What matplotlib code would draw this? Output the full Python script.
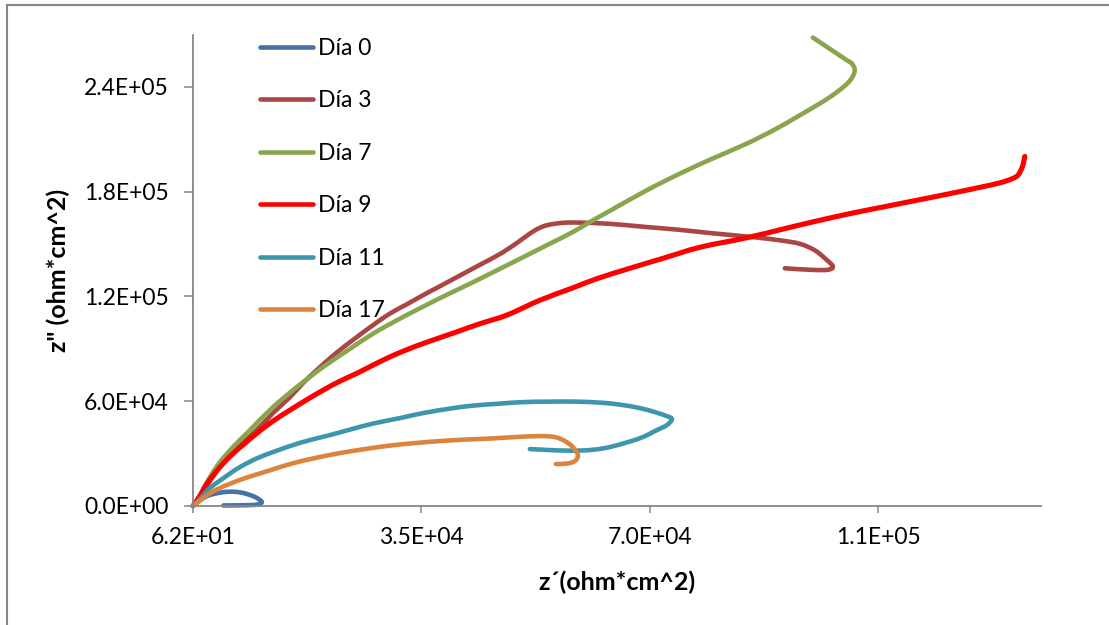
import matplotlib
matplotlib.use("Agg")
import matplotlib.pyplot as plt
import numpy as np
from matplotlib.lines import Line2D
from matplotlib.path import Path
from matplotlib.patches import PathPatch

plt.rcParams['font.family'] = ['Lato', 'DejaVu Sans']

# ---- data (z' , z'') in ohm*cm^2 ----
dia0_x = [62, 1400, 2670, 4200, 5730, 7300, 8800, 9900, 10590, 10300, 9300, 7000, 4700]
dia0_y = [0, 4000, 6300, 7600, 8200, 7800, 6300, 4500, 2500, 1200, 600, 400, 300]

dia3_x = [62, 1135, 2667, 4659, 7264, 9823, 12321, 14926, 16918, 19018, 21975, 25147, 27645,
          30250, 32855, 35307, 37912, 40471, 44042, 47566, 50631, 52470, 54264, 56761, 59366,
          63963, 69586, 74669, 79747, 85417, 90014, 93079, 95378, 96910, 98136, 97370, 94612, 90780]
dia3_y = [0, 5720, 14299, 25167, 34890, 43470, 53193, 62345, 70352, 77788, 87511, 96663, 103527,
          110219, 115538, 120686, 125833, 130981, 138131, 145280, 153116, 157864, 160724, 162153, 162268,
          161579, 159747, 158144, 156148, 154145, 152144, 150142, 146424, 141849, 137273, 135271, 135271, 136129]

dia7_x = [62, 1135, 2667, 4199, 6192, 8797, 12321, 16152, 19983, 23814, 27645, 31476, 35307,
          39138, 42969, 46800, 50631, 54264, 58293, 60898, 63963, 69586, 74669, 79747, 84910,
          89274, 92572, 95378, 97676, 99668, 100894, 101507, 101047, 100235, 97676, 95071]
dia7_y = [0, 6292, 16587, 25167, 33746, 43470, 56625, 68636, 79504, 89227, 98665, 106674, 114108,
          121258, 128121, 135271, 142420, 149284, 156890, 162610, 169017, 180739, 190297, 199046, 207455,
          215632, 222663, 228788, 234107, 239656, 244231, 249379, 253382, 255378, 261784, 268256]

dia9_x = [62, 1135, 2161, 4199, 6238, 9823, 12321, 14926, 17531, 20029, 22588, 25147, 27645,
          30250, 32855, 35353, 37912, 40471, 44042, 48133, 53236, 58339, 61925, 67030, 72130,
          77755, 84910, 90014, 95117, 100741, 105338, 111467, 116065, 120662, 123727, 125566,
          126485, 127098, 127405, 127558]
dia9_y = [0, 5720, 12583, 22307, 30143, 41582, 48617, 54909, 60915, 66349, 71496, 75902, 80648,
          85395, 89513, 93060, 96376, 99694, 104385, 109246, 117826, 124975, 130123, 136129, 141849,
          148140, 153573, 158150, 162728, 167417, 170847, 175423, 178854, 182460, 185035, 187323,
          189322, 193326, 197330, 200190]

dia11_x = [62, 1135, 2667, 4966, 7264, 10329, 14926, 17991, 21056, 24121, 27645, 31783, 35307,
           39445, 42969, 47107, 50631, 54769, 58600, 62431, 65496, 68561, 70859, 72698, 73464,
           72698, 70859, 69020, 66721, 63963, 61664, 59366, 57067, 54769, 51704]
dia11_y = [0, 4004, 10295, 16587, 22307, 28027, 34318, 37750, 40610, 43756, 47187, 50333, 53193,
           55767, 57483, 58627, 59485, 59771, 59771, 59199, 58055, 56053, 53765, 51477, 49761,
           46328, 42898, 39466, 36606, 33746, 32316, 31744, 31744, 32030, 32602]

dia17_x = [62, 1135, 2361, 3694, 6192, 8797, 11861, 14926, 18757, 22588, 26419, 30250, 34081, 37912,
           41743, 45574, 49405, 53236, 55535, 57067, 58293, 59059, 58599, 57373, 55688]
dia17_y = [0, 3146, 6578, 9438, 13442, 16873, 20419, 24023, 27455, 30314, 32602, 34604, 36034, 37178,
           38036, 38608, 39466, 40038, 39466, 37178, 33746, 29170, 25738, 24308, 24023]

labels = ['Día 0', 'Día 3', 'Día 7', 'Día 9', 'Día 11', 'Día 17']
colors = ['#4572A7', '#AA4643', '#89A54E', '#FF0000', '#3D96AE', '#DB843D']
xs = [dia0_x, dia3_x, dia7_x, dia9_x, dia11_x, dia17_x]
ys = [dia0_y, dia3_y, dia7_y, dia9_y, dia11_y, dia17_y]

xticks = [62, 35062, 70062, 105062]
yticks = [0, 60000, 120000, 180000, 240000]


def smooth_path(x, y, t=1.0 / 6.0):
    """Excel-style smoothed line: cubic Bezier segments through the points."""
    p = np.column_stack([x, y]).astype(float)
    n = len(p)
    verts = [p[0]]
    codes = [Path.MOVETO]
    for i in range(n - 1):
        p0 = p[i - 1] if i > 0 else p[i]
        p1 = p[i]
        p2 = p[i + 1]
        p3 = p[i + 2] if i + 2 < n else p[i + 1]
        c1 = p1 + (p2 - p0) * t
        c2 = p2 - (p3 - p1) * t
        verts += [c1, c2, p2]
        codes += [Path.CURVE4] * 3
    return Path(np.array(verts), codes)


W, H = 1109, 625
fig = plt.figure(figsize=(W / 100, H / 100), dpi=100)
ax = fig.add_axes([193 / W, 1 - 506 / H, (1040.7 - 193) / W, (506 - 34.5) / H])

for x, y, c, lab in zip(xs, ys, colors, labels):
    lw = 3.7 if c == '#FF0000' else 3.3
    patch = PathPatch(smooth_path(x, y), facecolor='none', edgecolor=c, lw=lw,
                      capstyle='round', joinstyle='round', clip_on=False)
    ax.add_patch(patch)

ax.set_xlim(62, 130000)
ax.set_ylim(0, 270000)
ax.set_xticks(xticks)
ax.set_yticks(yticks)
ax.set_xticklabels(['%.1E' % v for v in xticks])
ax.set_yticklabels(['%.1E' % v for v in yticks])

gray = '#868686'
for s in ['top', 'right']:
    ax.spines[s].set_visible(False)
for s in ['left', 'bottom']:
    ax.spines[s].set_color(gray)
    ax.spines[s].set_linewidth(1.3)
ax.tick_params(axis='y', direction='out', length=6.5, width=1.1, color=gray,
               labelsize=16.5, pad=11)
ax.tick_params(axis='x', direction='out', length=5, width=1.1, color=gray,
               labelsize=16.5, pad=10)

ax.set_xlabel('z´(ohm*cm^2)', fontsize=18, fontweight='bold', labelpad=16)
ax.set_ylabel('z" (ohm*cm^2)', fontsize=18, fontweight='bold', labelpad=10)

handles = [Line2D([0], [0], color=c, lw=3.3, solid_capstyle='round') for c in colors]
leg = ax.legend(handles, labels, loc='upper left',
                bbox_to_anchor=(260 / W, 1 - 38 / H), bbox_transform=fig.transFigure,
                frameon=False, fontsize=16.5, handlelength=2.3, handletextpad=0.25,
                labelspacing=1.37, borderpad=0, borderaxespad=0)

# outer chart border (top and left visible)
fig.add_artist(Line2D([7 / W, 1.0], [1 - 5 / H, 1 - 5 / H], transform=fig.transFigure,
                      color=gray, lw=1.5))
fig.add_artist(Line2D([7 / W, 7 / W], [0, 1 - 5 / H], transform=fig.transFigure,
                      color=gray, lw=1.5))

fig.savefig('out.png', dpi=100)
